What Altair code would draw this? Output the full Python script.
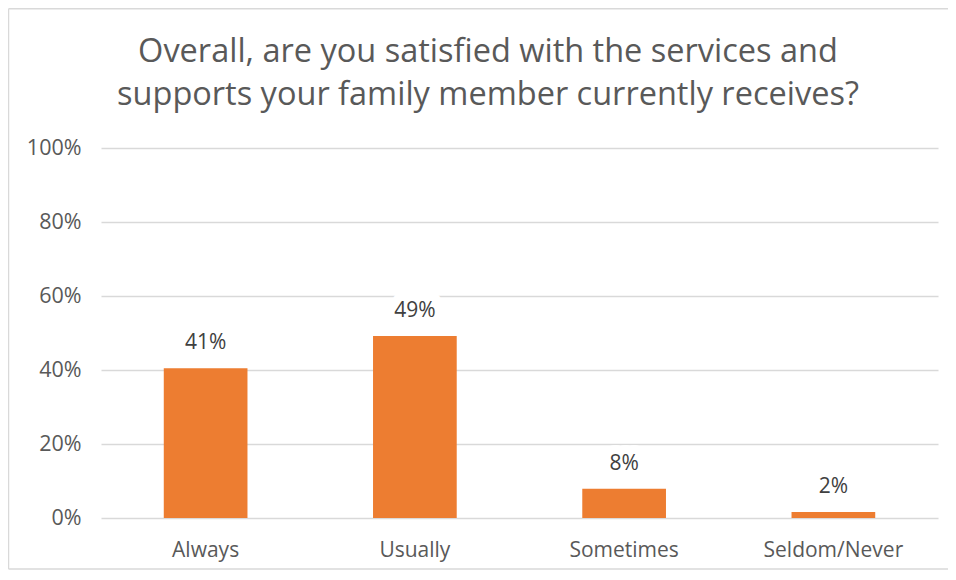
import altair as alt
import pandas as pd

categories = ["Always", "Usually", "Sometimes", "Seldom/Never"]
values = [0.405, 0.492, 0.079, 0.016]
labels = ["41%", "49%", "8%", "2%"]
title_lines = ["Overall, are you satisfied with the services and",
               "supports your family member currently receives?"]

df = pd.DataFrame({"category": categories, "value": values, "label": labels})

FONT = "Open Sans"
ORANGE = "#ED7D31"
GRAY = "#595959"
FS = 21
BORDER = "#d9d9d9"

x_enc = alt.X(
    "category:N",
    sort=categories,
    title=None,
    scale=alt.Scale(paddingInner=0.6, paddingOuter=0.3),
    axis=alt.Axis(
        labelAngle=0,
        labelFontSize=FS,
        labelColor=GRAY,
        labelFont=FONT,
        labelPadding=21,
        domain=False,
        ticks=False,
        grid=False,
    ),
)
y_enc = alt.Y(
    "value:Q",
    title=None,
    scale=alt.Scale(domain=[0, 1]),
    axis=alt.Axis(
        values=[0, 0.2, 0.4, 0.6, 0.8, 1.0],
        format=".0%",
        labelFontSize=21.5,
        labelColor=GRAY,
        labelFont=FONT,
        labelPadding=20,
        domain=False,
        ticks=False,
        gridColor="#d9d9d9",
        gridWidth=1.6,
    ),
)

base = alt.Chart(df)

bars = base.mark_bar(color=ORANGE).encode(x=x_enc, y=y_enc)

halo = base.mark_text(
    baseline="alphabetic", dy=-19, fontSize=FS, font=FONT,
    stroke="white", strokeWidth=18, strokeJoin="round", fill="white",
).encode(x=alt.X("category:N", sort=categories), y="value:Q", text="label:N")

text = base.mark_text(
    baseline="alphabetic", dy=-19, fontSize=FS, font=FONT, color="#404040",
).encode(x=alt.X("category:N", sort=categories), y="value:Q", text="label:N")

one = alt.Data(values=[{}])
border_top = alt.Chart(one).mark_rule(color=BORDER, strokeWidth=1.5).encode(
    x=alt.value(-92.5), x2=alt.value(847), y=alt.value(-139.2))
border_left = alt.Chart(one).mark_rule(color=BORDER, strokeWidth=1.5).encode(
    x=alt.value(-92.5), y=alt.value(-139.2), y2=alt.value(421))
border_bottom = alt.Chart(one).mark_rule(color=BORDER, strokeWidth=1.5).encode(
    x=alt.value(-92.5), x2=alt.value(847), y=alt.value(421))

title = alt.Chart(one).mark_text(
    text=title_lines,
    fontSize=32.5,
    font=FONT,
    color=GRAY,
    align="center",
    baseline="alphabetic",
    lineHeight=43,
).encode(x=alt.value(387), y=alt.value(-86))

chart = alt.layer(border_top, border_left, border_bottom, title, bars, halo, text).properties(
    width=837,
    height=370,
    padding={"left": 93, "top": 140, "right": 10, "bottom": 52},
    autosize=alt.AutoSizeParams(type="none"),
    background="white",
).configure_view(stroke=None)

chart.save("out.html", embed_options={"renderer": "svg", "actions": False})
